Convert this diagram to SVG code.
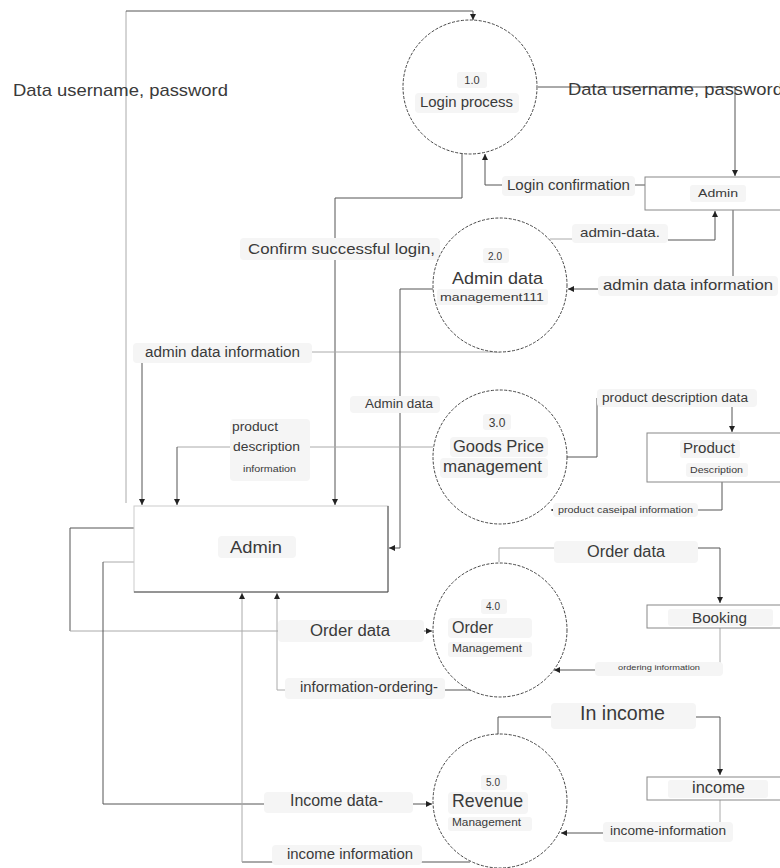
<svg xmlns="http://www.w3.org/2000/svg" width="780" height="868" viewBox="0 0 780 868">
<style>
text{font-family:"Liberation Sans",Arial,sans-serif;fill:#3a3a3a}
.c{fill:none;stroke:#555;stroke-width:1}
.cl{fill:none;stroke:#aaa;stroke-width:1}
.p{fill:#fff;stroke:#444;stroke-width:1;stroke-dasharray:3 1.5}
.s{fill:#fff;stroke:#888;stroke-width:1}
.bg{fill:#f5f5f5;stroke:none}
</style>
<defs>
<marker id="a" markerWidth="7" markerHeight="7" refX="6" refY="3.5" orient="auto" markerUnits="userSpaceOnUse">
<path d="M0,0.5 L6,3.5 L0,6.5 Z" fill="#222"/>
</marker>
</defs>
<rect width="780" height="868" fill="#fff"/>
<g id="connectors">
<path class="cl" d="M126,503 V11"/>
<path class="c" d="M126,11 H473 V20" marker-end="url(#a)"/>
<path class="c" d="M538,87 H735 V176" marker-end="url(#a)"/>
<path class="c" d="M645,185 H485 V154" marker-end="url(#a)"/>
<path class="c" d="M462,153 V198 H335 V505" marker-end="url(#a)"/>
<path class="cl" d="M550,239 H668"/>
<path class="c" d="M668,240 H715 V211" marker-end="url(#a)"/>
<path class="c" d="M733,210 V289 H568" marker-end="url(#a)"/>
<path class="cl" d="M500,352 H142"/>
<path class="c" d="M142,352 V505" marker-end="url(#a)"/>
<path class="c" d="M433,289 H400 V548 H389" marker-end="url(#a)"/>
<path class="cl" d="M433,447 H177"/>
<path class="c" d="M177,447 V505" marker-end="url(#a)"/>
<path class="c" d="M567,457 H597 V398 H732 V432" marker-end="url(#a)"/>
<path class="c" d="M722,482 V510 H551" marker-end="url(#a)"/>
<path class="c" d="M134,528 H70 V631"/>
<path class="cl" d="M70,631 H400"/>
<path class="c" d="M400,631 H432" marker-end="url(#a)"/>
<path class="cl" d="M134,562 H103"/>
<path class="c" d="M103,562 V804 H432" marker-end="url(#a)"/>
<path class="c" d="M470,862 H242"/>
<path class="cl" d="M242,862 V593" marker-end="url(#a)"/>
<path class="c" d="M472,690 H430"/>
<path class="cl" d="M430,690 H277 V593" marker-end="url(#a)"/>
<path class="cl" d="M499,562 V548 H600"/>
<path class="c" d="M600,548 H720 V603" marker-end="url(#a)"/>
<path class="cl" d="M720,628 V670"/>
<path class="c" d="M720,670 H554" marker-end="url(#a)"/>
<path class="c" d="M498,735 V717 H720 V775" marker-end="url(#a)"/>
<path class="cl" d="M720,800 V833"/>
<path class="c" d="M720,833 H561" marker-end="url(#a)"/>
</g>
<g id="connector-labels">
<text x="13" y="96" font-size="17" textLength="215" lengthAdjust="spacingAndGlyphs">Data username, password</text>
<text x="568" y="95" font-size="17" textLength="215" lengthAdjust="spacingAndGlyphs">Data username, password</text>
<rect class="bg" x="502" y="176" width="133" height="20" rx="4"/>
<text x="507" y="190" font-size="14" textLength="123" lengthAdjust="spacingAndGlyphs">Login confirmation</text>
<rect class="bg" x="240" y="238" width="200" height="22" rx="4"/>
<text x="248" y="254" font-size="15" textLength="187" lengthAdjust="spacingAndGlyphs">Confirm successful login,</text>
<rect class="bg" x="572" y="224" width="96" height="19" rx="4"/>
<text x="580" y="237" font-size="13" textLength="80" lengthAdjust="spacingAndGlyphs">admin-data.</text>
<rect class="bg" x="598" y="276" width="180" height="20" rx="4"/>
<text x="603" y="290" font-size="15" textLength="170" lengthAdjust="spacingAndGlyphs">admin data information</text>
<rect class="bg" x="133" y="343" width="179" height="20" rx="4"/>
<text x="145" y="357" font-size="14" textLength="155" lengthAdjust="spacingAndGlyphs">admin data information</text>
<rect class="bg" x="350" y="396" width="90" height="17" rx="4"/>
<text x="365" y="408" font-size="12" textLength="68" lengthAdjust="spacingAndGlyphs">Admin data</text>
<rect class="bg" x="230" y="419" width="80" height="62" rx="4"/>
<text x="232" y="431" font-size="12" textLength="46" lengthAdjust="spacingAndGlyphs">product</text>
<text x="233" y="451" font-size="12" textLength="67" lengthAdjust="spacingAndGlyphs">description</text>
<text x="243" y="472" font-size="9" textLength="53" lengthAdjust="spacingAndGlyphs">information</text>
<rect class="bg" x="597" y="389" width="160" height="18" rx="4"/>
<text x="602" y="402" font-size="12" textLength="146" lengthAdjust="spacingAndGlyphs">product description data</text>
<rect class="bg" x="553" y="503" width="145" height="14" rx="4"/>
<text x="558" y="513" font-size="9" textLength="135" lengthAdjust="spacingAndGlyphs">product caseipal information</text>
<rect class="bg" x="554" y="541" width="144" height="22" rx="4"/>
<text x="587" y="557" font-size="16" textLength="78" lengthAdjust="spacingAndGlyphs">Order data</text>
<rect class="bg" x="595" y="662" width="128" height="14" rx="4"/>
<text x="618" y="670" font-size="7" textLength="82" lengthAdjust="spacingAndGlyphs">ordering information</text>
<rect class="bg" x="278" y="620" width="146" height="22" rx="4"/>
<text x="310" y="636" font-size="16" textLength="80" lengthAdjust="spacingAndGlyphs">Order data</text>
<rect class="bg" x="285" y="678" width="160" height="21" rx="4"/>
<text x="300" y="692" font-size="14" textLength="138" lengthAdjust="spacingAndGlyphs">information-ordering-</text>
<rect class="bg" x="551" y="703" width="145" height="26" rx="4"/>
<text x="580" y="720" font-size="20" textLength="85" lengthAdjust="spacingAndGlyphs">In income</text>
<rect class="bg" x="603" y="822" width="130" height="20" rx="4"/>
<text x="610" y="835" font-size="13" textLength="116" lengthAdjust="spacingAndGlyphs">income-information</text>
<rect class="bg" x="264" y="792" width="149" height="21" rx="4"/>
<text x="290" y="806" font-size="16" textLength="93" lengthAdjust="spacingAndGlyphs">Income data-</text>
<rect class="bg" x="272" y="845" width="150" height="20" rx="4"/>
<text x="287" y="859" font-size="14" textLength="126" lengthAdjust="spacingAndGlyphs">income information</text>
</g>
<g id="p1">
<circle class="p" cx="470" cy="87" r="67"/>
<rect class="bg" x="457" y="72" width="30" height="16" rx="3"/>
<text x="472" y="84" font-size="11" text-anchor="middle">1.0</text>
<rect class="bg" x="415" y="93" width="104" height="20" rx="4"/>
<text x="420" y="107" font-size="14" textLength="93" lengthAdjust="spacingAndGlyphs">Login process</text>
</g>
<g id="store-admin-top">
<rect class="s" x="645" y="177" width="150" height="33"/>
<rect class="bg" x="690" y="185" width="56" height="17" rx="3"/>
<text x="698" y="197" font-size="11" textLength="40" lengthAdjust="spacingAndGlyphs">Admin</text>
</g>
<g id="p2">
<circle class="p" cx="500" cy="285" r="67"/>
<rect class="bg" x="483" y="248" width="26" height="15" rx="3"/>
<text x="495" y="260" font-size="10" text-anchor="middle">2.0</text>
<text x="452" y="284" font-size="17" textLength="91" lengthAdjust="spacingAndGlyphs">Admin data</text>
<rect class="bg" x="437" y="289" width="111" height="16" rx="3"/>
<text x="440" y="301" font-size="11" textLength="104" lengthAdjust="spacingAndGlyphs">management111</text>
</g>
<g id="p3">
<circle class="p" cx="500" cy="457" r="67"/>
<rect class="bg" x="483" y="414" width="28" height="16" rx="3"/>
<text x="497" y="427" font-size="12" text-anchor="middle">3.0</text>
<rect class="bg" x="450" y="437" width="98" height="20" rx="4"/>
<text x="453" y="452" font-size="16" textLength="91" lengthAdjust="spacingAndGlyphs">Goods Price</text>
<rect class="bg" x="440" y="458" width="108" height="20" rx="4"/>
<text x="443" y="472" font-size="16" textLength="99" lengthAdjust="spacingAndGlyphs">management</text>
</g>
<g id="store-product">
<rect class="s" x="647" y="433" width="150" height="49"/>
<rect class="bg" x="680" y="440" width="60" height="18" rx="3"/>
<text x="683" y="453" font-size="15" textLength="52" lengthAdjust="spacingAndGlyphs">Product</text>
<rect class="bg" x="686" y="463" width="62" height="14" rx="3"/>
<text x="690" y="473" font-size="9" textLength="53" lengthAdjust="spacingAndGlyphs">Description</text>
</g>
<g id="admin">
<rect x="134" y="506" width="254" height="86" fill="#fff" stroke="#ccc"/>
<path d="M134,592 H388 V506" fill="none" stroke="#444"/>
<rect class="bg" x="218" y="536" width="78" height="22" rx="4"/>
<text x="230" y="553" font-size="17" textLength="52" lengthAdjust="spacingAndGlyphs">Admin</text>
</g>
<g id="p4">
<circle class="p" cx="500" cy="630" r="67"/>
<rect class="bg" x="481" y="599" width="26" height="15" rx="3"/>
<text x="493" y="610" font-size="10" text-anchor="middle">4.0</text>
<rect class="bg" x="448" y="618" width="84" height="20" rx="4"/>
<text x="452" y="633" font-size="17" textLength="41" lengthAdjust="spacingAndGlyphs">Order</text>
<rect class="bg" x="448" y="642" width="84" height="15" rx="3"/>
<text x="452" y="652" font-size="10" textLength="70" lengthAdjust="spacingAndGlyphs">Management</text>
</g>
<g id="store-booking">
<rect class="s" x="647" y="605" width="150" height="23"/>
<rect class="bg" x="668" y="609" width="105" height="17" rx="3"/>
<text x="692" y="623" font-size="15" textLength="55" lengthAdjust="spacingAndGlyphs">Booking</text>
</g>
<g id="p5">
<circle class="p" cx="500" cy="801" r="67"/>
<rect class="bg" x="481" y="775" width="26" height="15" rx="3"/>
<text x="493" y="786" font-size="10" text-anchor="middle">5.0</text>
<rect class="bg" x="448" y="792" width="80" height="22" rx="4"/>
<text x="452" y="807" font-size="19" textLength="71" lengthAdjust="spacingAndGlyphs">Revenue</text>
<rect class="bg" x="448" y="817" width="84" height="14" rx="3"/>
<text x="452" y="826" font-size="10" textLength="69" lengthAdjust="spacingAndGlyphs">Management</text>
</g>
<g id="store-income">
<rect class="s" x="647" y="777" width="150" height="23" stroke="#555"/>
<rect class="bg" x="668" y="780" width="100" height="18" rx="3"/>
<text x="692" y="793" font-size="16" textLength="53" lengthAdjust="spacingAndGlyphs">income</text>
</g>
</svg>
